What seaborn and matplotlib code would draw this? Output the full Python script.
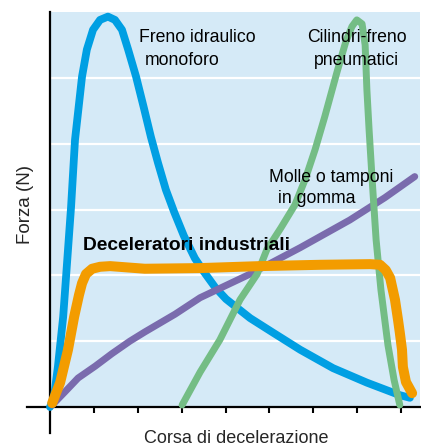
import matplotlib
matplotlib.use("Agg")
import matplotlib.pyplot as plt
import seaborn as sns
import pandas as pd

# ---- data (x: corsa, y: forza, arbitrary units) ----
blue_x = [0.00, 0.09, 0.18, 0.30, 0.41, 0.48, 0.57, 0.73, 0.84, 0.98, 1.14, 1.32, 1.48, 1.64,
          1.78, 1.96, 2.14, 2.30, 2.46, 2.64, 2.83, 3.05, 3.30, 3.51, 3.76, 4.01, 4.56, 5.08,
          5.70, 6.45, 7.22, 7.97, 8.20]
blue_y = [0.00, 0.15, 0.61, 1.37, 2.39, 3.04, 4.06, 5.02, 5.43, 5.73, 5.88, 5.93, 5.88, 5.73,
          5.43, 5.02, 4.54, 4.10, 3.71, 3.30, 2.96, 2.60, 2.26, 2.05, 1.82, 1.64, 1.35, 1.13,
          0.87, 0.59, 0.37, 0.18, 0.14]

orange_x = [0.05, 0.23, 0.41, 0.55, 0.66, 0.73, 0.82, 0.96, 1.14, 1.37, 2.16, 3.42, 4.78,
            6.15, 7.29, 7.52, 7.65, 7.75, 7.81, 7.86, 7.93, 7.97, 8.02, 8.04, 8.11, 8.25]
orange_y = [0.06, 0.37, 0.87, 1.37, 1.70, 1.88, 2.02, 2.10, 2.13, 2.14, 2.10, 2.11, 2.14,
            2.16, 2.17, 2.16, 2.08, 1.96, 1.78, 1.63, 1.32, 1.13, 0.87, 0.61, 0.38, 0.21]

purple_x = [0.05, 0.34, 0.64, 1.03, 1.41, 1.82, 2.16, 2.85, 3.42, 4.56, 5.70, 6.83, 7.63, 8.31]
purple_y = [0.03, 0.23, 0.44, 0.62, 0.81, 1.00, 1.14, 1.41, 1.66, 2.02, 2.42, 2.84, 3.18, 3.50]

green_x = [3.01, 3.42, 3.87, 4.33, 4.72, 4.94, 5.26, 5.58, 5.81, 6.04, 6.26, 6.54, 6.74, 6.88,
           6.99, 7.11, 7.18, 7.22, 7.27, 7.34, 7.43, 7.54, 7.70, 7.84, 7.97]
green_y = [0.03, 0.53, 1.02, 1.63, 2.02, 2.39, 2.72, 3.07, 3.45, 3.91, 4.41, 5.09, 5.55, 5.78,
           5.88, 5.82, 5.50, 4.82, 4.21, 3.45, 2.54, 1.78, 0.94, 0.41, 0.03]

x_ticks = [1, 2, 3, 4, 5, 6, 7, 8]
grid_levels = [1, 2, 3, 4, 5]

xlabel = "Corsa di decelerazione"
ylabel = "Forza (N)"

FONT = ["Liberation Sans Narrow", "Liberation Sans", "DejaVu Sans"]

sns.set_theme(style="white")
plt.rcParams["font.family"] = FONT

fig = plt.figure(figsize=(4.21, 4.46), dpi=100)
ax = fig.add_axes([50 / 421, (446 - 407) / 446, 370 / 421, (407 - 12) / 446])
ax.set_facecolor("#d5eaf7")

for g in grid_levels:
    ax.axhline(g, color="white", lw=1.6, zorder=1)

def draw(xs, ys, color, lw, z):
    df = pd.DataFrame({"x": xs, "y": ys})
    sns.lineplot(data=df, x="x", y="y", ax=ax, color=color, lw=lw, sort=False,
                 estimator=None, solid_capstyle="round", solid_joinstyle="round",
                 clip_on=False, zorder=z)

draw(blue_x, blue_y, "#009fe3", 5.6, 3)
draw(purple_x, purple_y, "#7a6bad", 5.0, 4)
draw(green_x, green_y, "#74bd85", 5.0, 5)
draw(orange_x, orange_y, "#f39c00", 7.2, 6)

ax.set_xlim(0, 8.43)
ax.set_ylim(0, 6)
ax.set_xticks(x_ticks)
ax.set_xticklabels([])
ax.set_yticks([])
ax.tick_params(axis="x", direction="out", length=4.5, width=1.5, color="black", bottom=True)
ax.set_xlabel("")
ax.set_ylabel("")

for side in ["top", "right"]:
    ax.spines[side].set_visible(False)
for side in ["left", "bottom"]:
    ax.spines[side].set_visible(True)
    ax.spines[side].set_color("black")
    ax.spines[side].set_linewidth(1.6)
    ax.spines[side].set_zorder(2.5)
ax.spines["left"].set_bounds(-0.40, 6)
ax.spines["bottom"].set_bounds(-0.52, 8.43)

tkw = dict(fontsize=12.7, color="black", va="baseline", zorder=10)
ax.text(2.03, 5.55, "Freno idraulico", ha="left", **tkw)
ax.text(2.16, 5.20, "monoforo", ha="left", **tkw)
ax.text(6.99, 5.55, "Cilindri-freno", ha="center", **tkw)
ax.text(6.99, 5.20, "pneumatici", ha="center", **tkw)
ax.text(4.99, 3.42, "Molle o tamponi", ha="left", **tkw)
ax.text(5.19, 3.10, "in gomma", ha="left", **tkw)
ax.text(0.75, 2.39, "Deceleratori industriali", ha="left", fontsize=13.8, fontweight="bold",
        color="black", va="baseline", zorder=10)

fig.text(236 / 421, 1 - 443 / 446, xlabel, ha="center", va="baseline", fontsize=13)
fig.text(26 / 421, 1 - 204 / 446, ylabel, ha="center", va="center", rotation=90, fontsize=13.5)

fig.savefig("out.png", dpi=100)
